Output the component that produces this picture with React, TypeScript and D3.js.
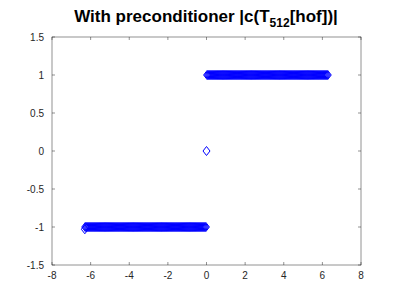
import React from 'react';
import * as d3 from 'd3';

const width = 399;
const height = 299;
const margin = { top: 37, right: 38, bottom: 34, left: 52 };

const xTicks = [-8, -6, -4, -2, 0, 2, 4, 6, 8];
const yTicks = [-1.5, -1, -0.5, 0, 0.5, 1, 1.5];

// eigenvalue clusters
const upperX = [
  0.03, 0.08, 0.13, 0.18, 0.23, 0.28, 0.33, 0.38, 0.43, 0.48, 0.53, 0.58, 0.63, 0.68, 0.73, 0.78, 0.83, 0.88, 0.93, 0.98,
  1.03, 1.08, 1.13, 1.18, 1.23, 1.28, 1.33, 1.38, 1.43, 1.48, 1.53, 1.58, 1.63, 1.68, 1.73, 1.78, 1.83, 1.88, 1.93, 1.98,
  2.03, 2.08, 2.13, 2.18, 2.23, 2.28, 2.33, 2.38, 2.43, 2.48, 2.53, 2.58, 2.63, 2.68, 2.73, 2.78, 2.83, 2.88, 2.93, 2.98,
  3.03, 3.08, 3.13, 3.18, 3.23, 3.28, 3.33, 3.38, 3.43, 3.48, 3.53, 3.58, 3.63, 3.68, 3.73, 3.78, 3.83, 3.88, 3.93, 3.98,
  4.03, 4.08, 4.13, 4.18, 4.23, 4.28, 4.33, 4.38, 4.43, 4.48, 4.53, 4.58, 4.63, 4.68, 4.73, 4.78, 4.83, 4.88, 4.93, 4.98,
  5.03, 5.08, 5.13, 5.18, 5.23, 5.28, 5.33, 5.38, 5.43, 5.48, 5.53, 5.58, 5.63, 5.68, 5.73, 5.78, 5.83, 5.88, 5.93, 5.98,
  6.03, 6.08, 6.13, 6.18, 6.23, 6.28,
];
const upperLevel = 1;
const lowerX = [
  -6.28, -6.23, -6.18, -6.13, -6.08, -6.03,
  -5.98, -5.93, -5.88, -5.83, -5.78, -5.73, -5.68, -5.63, -5.58, -5.53, -5.48, -5.43, -5.38, -5.33, -5.28, -5.23, -5.18, -5.13, -5.08, -5.03,
  -4.98, -4.93, -4.88, -4.83, -4.78, -4.73, -4.68, -4.63, -4.58, -4.53, -4.48, -4.43, -4.38, -4.33, -4.28, -4.23, -4.18, -4.13, -4.08, -4.03,
  -3.98, -3.93, -3.88, -3.83, -3.78, -3.73, -3.68, -3.63, -3.58, -3.53, -3.48, -3.43, -3.38, -3.33, -3.28, -3.23, -3.18, -3.13, -3.08, -3.03,
  -2.98, -2.93, -2.88, -2.83, -2.78, -2.73, -2.68, -2.63, -2.58, -2.53, -2.48, -2.43, -2.38, -2.33, -2.28, -2.23, -2.18, -2.13, -2.08, -2.03,
  -1.98, -1.93, -1.88, -1.83, -1.78, -1.73, -1.68, -1.63, -1.58, -1.53, -1.48, -1.43, -1.38, -1.33, -1.28, -1.23, -1.18, -1.13, -1.08, -1.03,
  -0.98, -0.93, -0.88, -0.83, -0.78, -0.73, -0.68, -0.63, -0.58, -0.53, -0.48, -0.43, -0.38, -0.33, -0.28, -0.23, -0.18, -0.13, -0.08, -0.03,
];
const lowerLevel = -1;
const extraX = [0, -6.3];
const extraY = [0, -1.03];

const x = d3.scaleLinear().domain([-8, 8]).range([margin.left, width - margin.right]);
const y = d3.scaleLinear().domain([-1.5, 1.5]).range([height - margin.bottom, margin.top]);

const diamond = 'M0,-4.5L3.5,0L0,4.5L-3.5,0Z';
const axisColor = '#262626';
const font = '"Liberation Sans", Arial, sans-serif';

export default function App() {
  const points: [number, number][] = [
    ...upperX.map(v => [v, upperLevel] as [number, number]),
    ...lowerX.map(v => [v, lowerLevel] as [number, number]),
    ...extraX.map((v, i) => [v, extraY[i]] as [number, number]),
  ];
  const [x0, x1] = x.range();
  const [y0, y1] = y.range();
  const tick = 3;
  return (
    <svg width={width} height={height} style={{ position: 'absolute', left: 0, top: 0, background: '#fff' }}>
      <text x={206} y={22} textAnchor="middle" fontFamily={font} fontWeight="bold" fontSize={17} fill="#000">
        With preconditioner |c(T<tspan fontSize={12} dy={5}>512</tspan>
        <tspan dy={-5}>[hof])|</tspan>
      </text>
      <rect x={x0} y={y1} width={x1 - x0} height={y0 - y1} fill="none" stroke={axisColor} strokeWidth={0.5} />
      {xTicks.map(t => (
        <g key={'x' + t}>
          <line x1={x(t)} x2={x(t)} y1={y0} y2={y0 - tick} stroke={axisColor} strokeWidth={0.5} />
          <line x1={x(t)} x2={x(t)} y1={y1} y2={y1 + tick} stroke={axisColor} strokeWidth={0.5} />
          <text x={x(t)} y={y0 + 14} textAnchor="middle" fontFamily={font} fontSize={10} fill={axisColor}>
            {t}
          </text>
        </g>
      ))}
      {yTicks.map(t => (
        <g key={'y' + t}>
          <line x1={x0} x2={x0 + tick} y1={y(t)} y2={y(t)} stroke={axisColor} strokeWidth={0.5} />
          <line x1={x1} x2={x1 - tick} y1={y(t)} y2={y(t)} stroke={axisColor} strokeWidth={0.5} />
          <text x={x0 - 8} y={y(t) + 3.5} textAnchor="end" fontFamily={font} fontSize={10} fill={axisColor}>
            {t}
          </text>
        </g>
      ))}
      <g fill="none" stroke="#0000ff" strokeWidth={1}>
        {points.map((p, i) => (
          <path key={i} d={diamond} transform={`translate(${x(p[0])},${y(p[1])})`} />
        ))}
      </g>
    </svg>
  );
}
